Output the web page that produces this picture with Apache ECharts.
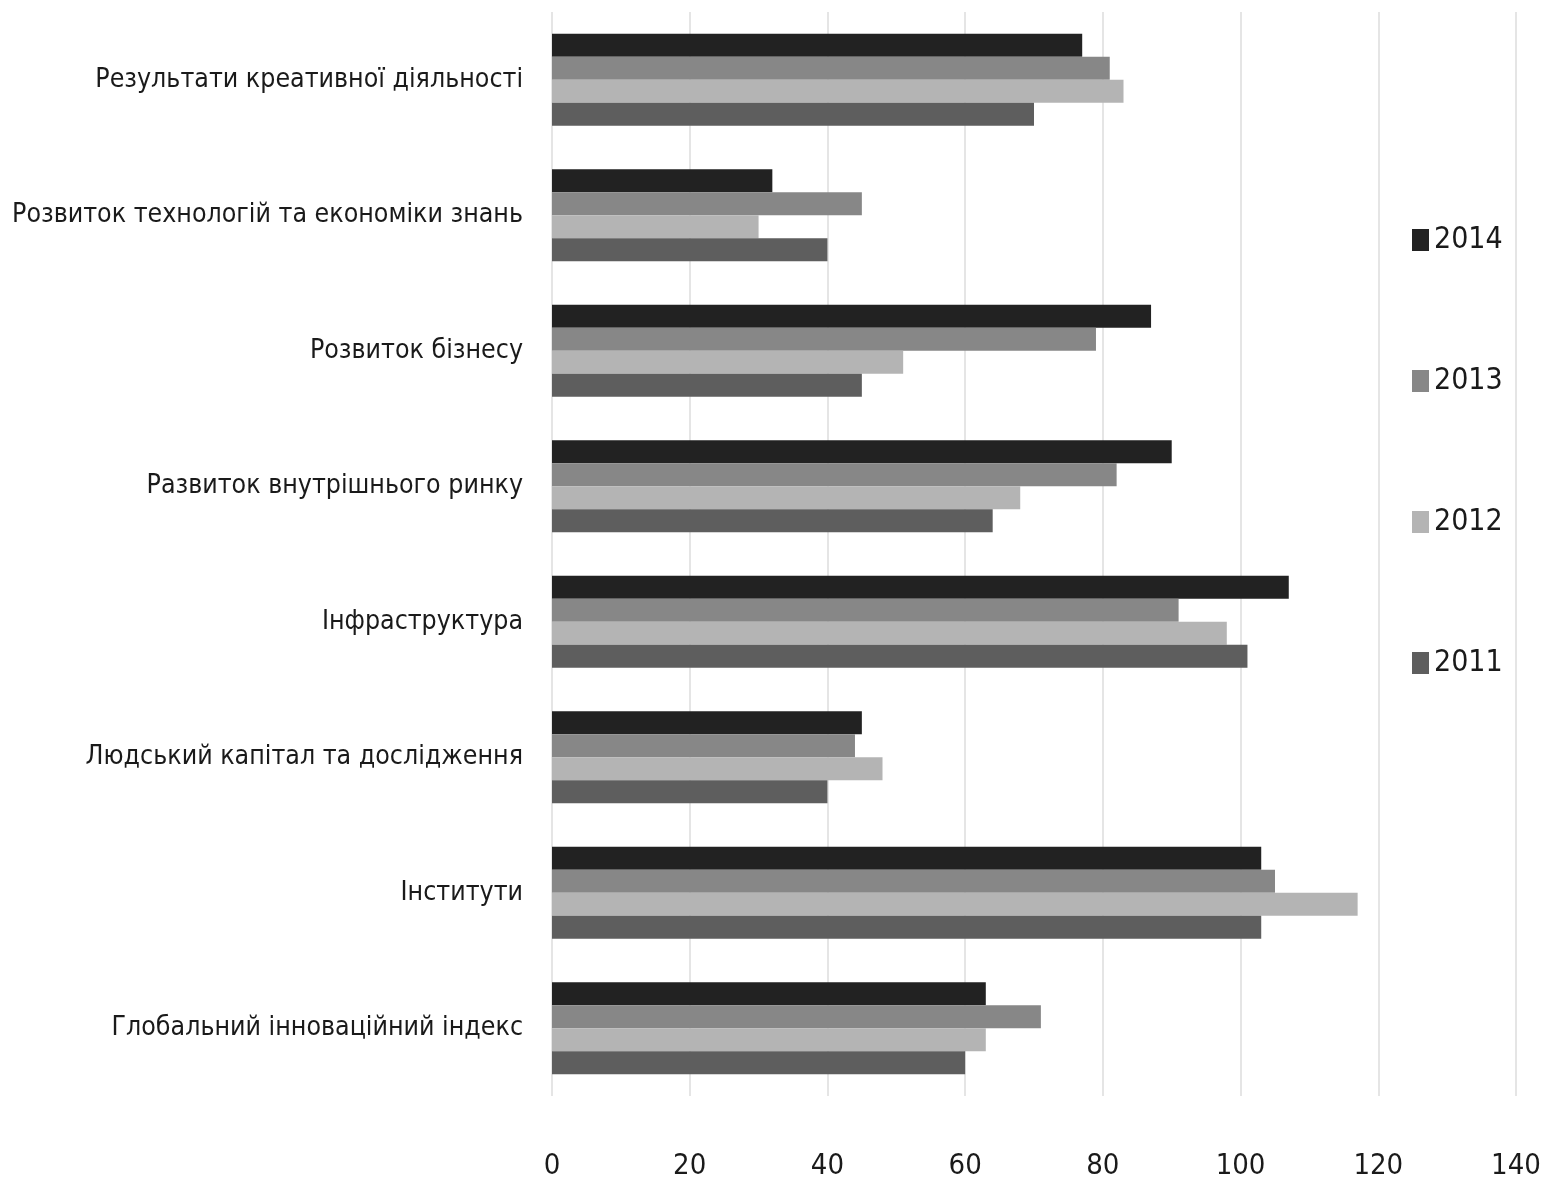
<!DOCTYPE html>
<html>
<head>
<meta charset="utf-8">
<script src="https://cdn.jsdelivr.net/npm/echarts@6/dist/echarts.min.js"></script>
<style>
html,body{margin:0;padding:0;background:#fff;}
#chart{width:1557px;height:1186px;}
</style>
</head>
<body>
<div id="chart"></div>
<script>
var categories = [
  'Результати креативної діяльності',
  'Розвиток технологій та економіки знань',
  'Розвиток бізнесу',
  'Развиток внутрішнього ринку',
  'Інфраструктура',
  'Людський капітал та дослідження',
  'Інститути',
  'Глобальний інноваційний індекс'
];
var years = ['2014', '2013', '2012', '2011'];
var values2014 = [77, 32, 87, 90, 107, 45, 103, 63];
var values2013 = [81, 45, 79, 82, 91, 44, 105, 71];
var values2012 = [83, 30, 51, 68, 98, 48, 117, 63];
var values2011 = [70, 40, 45, 64, 101, 40, 103, 60];
var xTicks = [0, 20, 40, 60, 80, 100, 120, 140];

var colors = ['#222222', '#878787', '#b4b4b4', '#5e5e5e'];
var font = "'Liberation Sans Narrow', 'DejaVu Sans Condensed', 'Roboto', sans-serif";
var seriesValues = [values2014, values2013, values2012, values2011];

var chart = echarts.init(document.getElementById('chart'));
chart.setOption({
  animation: false,
  backgroundColor: '#ffffff',
  color: colors,
  legend: {
    data: years,
    orient: 'vertical',
    left: 1407,
    top: 220,
    itemWidth: 17,
    itemHeight: 22,
    itemGap: 111,
    icon: 'rect',
    textStyle: { fontFamily: font, fontSize: 30, color: '#1a1a1a', lineHeight: 30 }
  },
  grid: { left: 552, right: 41, top: 12, bottom: 90, containLabel: false, outerBoundsMode: 'none' },
  xAxis: {
    type: 'value',
    min: xTicks[0],
    max: xTicks[xTicks.length - 1],
    interval: 20,
    axisLine: { show: false },
    axisTick: { show: false },
    splitLine: { show: true, lineStyle: { color: '#dcdcdc', width: 1.5 } },
    axisLabel: { fontFamily: font, fontSize: 29, color: '#1a1a1a', margin: 56 }
  },
  yAxis: {
    type: 'category',
    data: categories,
    inverse: true,
    axisLine: { show: false },
    axisTick: { show: false },
    axisLabel: { fontFamily: font, fontSize: 26.5, color: '#1a1a1a', margin: 29 }
  },
  series: years.map(function (y, i) {
    return {
      name: y,
      type: 'bar',
      data: seriesValues[i],
      barGap: '0%',
      barCategoryGap: '32%',
      itemStyle: { color: colors[i] }
    };
  })
});
</script>
</body>
</html>
